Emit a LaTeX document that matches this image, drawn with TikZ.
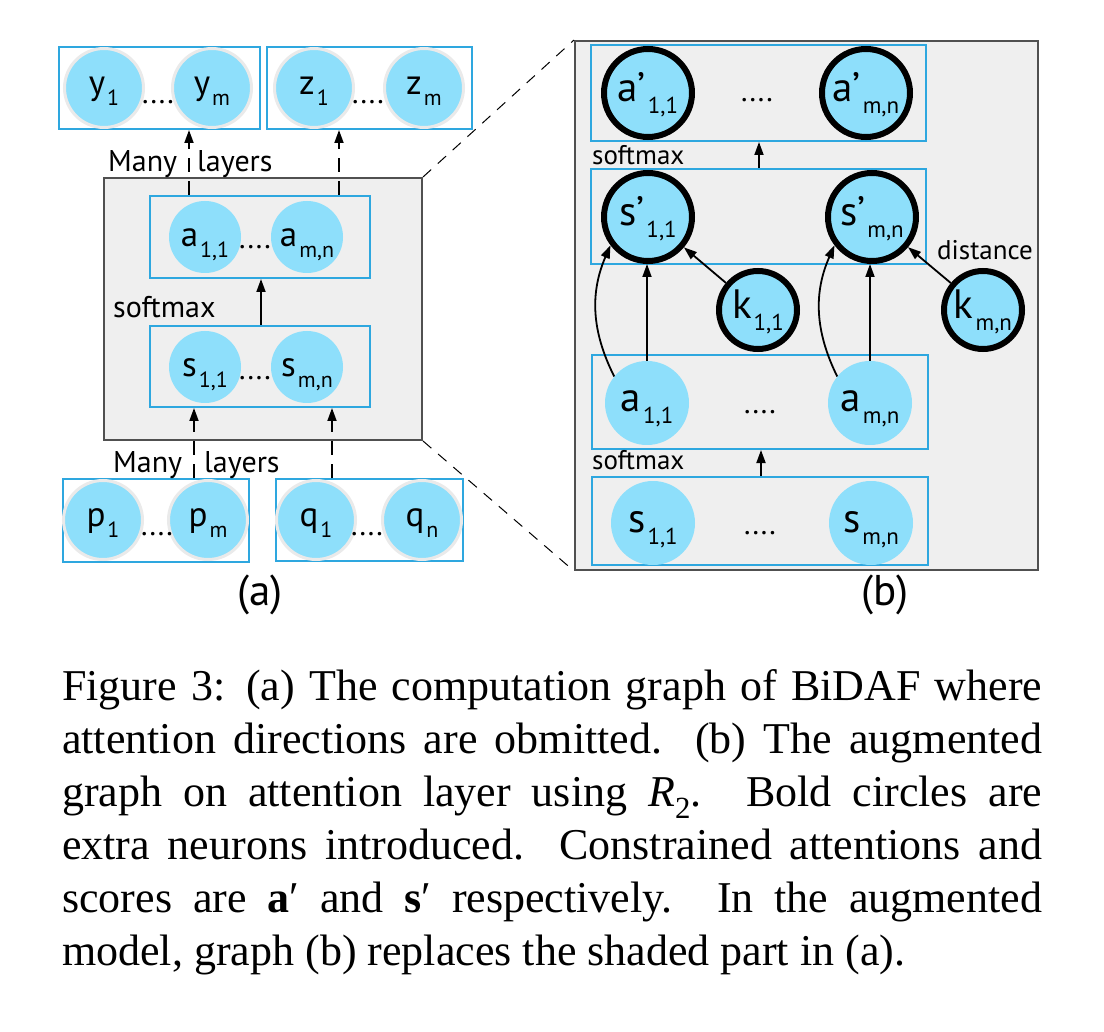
\documentclass[tikz,border=0pt]{standalone}
\usepackage{fontspec}
\setmainfont{Liberation Serif}
\newfontfamily\dfont{PT Sans}
\usetikzlibrary{arrows.meta}
\definecolor{nblue}{HTML}{8EDFFB}
\definecolor{bblue}{HTML}{2EA7DF}
\definecolor{shade}{HTML}{EFEFEF}
\definecolor{sborder}{HTML}{505050}
\definecolor{ringgray}{HTML}{EAEAEA}
\newcommand{\labA}[2]{{\fontsize{35}{35}\selectfont #1}\kern2pt\raisebox{-11pt}{\fontsize{22}{22}\selectfont #2}}
\newcommand{\labB}[2]{{\fontsize{41}{41}\selectfont #1}\kern2pt\raisebox{-12pt}{\fontsize{23}{23}\selectfont #2}}
\begin{document}
\begin{tikzpicture}[x=1pt,y=-1pt,
  layerbox/.style={draw=bblue, line width=2pt, rectangle, inner sep=0pt},
  shadebox/.style={draw=sborder, fill=shade, line width=2pt, rectangle, inner sep=0pt},
  neuronA/.style={circle, fill=nblue, draw=ringgray, line width=3pt, minimum size=79pt, inner sep=0pt, text height=20pt, text depth=7pt, font=\dfont},
  neuronAi/.style={circle, fill=nblue, minimum size=72pt, inner sep=0pt, text height=24pt, text depth=5pt, font=\dfont},
  neuronB/.style={circle, fill=nblue, minimum size=84pt, inner sep=0pt, text height=24pt, text depth=6pt, font=\dfont},
  boldB/.style={circle, fill=nblue, draw=black, line width=6pt, minimum size=88pt, inner sep=0pt, text height=24pt, text depth=6pt, font=\dfont},
  boldK/.style={boldB, minimum size=78pt},
  dotsty/.style={anchor=base, inner sep=0pt, font=\dfont\fontsize{30}{30}\selectfont},
  lblA/.style={anchor=base west, inner sep=0pt, font=\dfont\fontsize{30}{30}\selectfont},
  lblB/.style={anchor=base west, inner sep=0pt, font=\dfont\fontsize{27}{27}\selectfont},
  panel/.style={inner sep=0pt, font=\dfont\fontsize{43}{43}\selectfont},
  arr/.style={-{Triangle[length=13pt,width=9pt]}, line width=1.8pt},
  darr/.style={arr, dash pattern=on 14pt off 9pt},
  zoomline/.style={line width=1pt, dash pattern=on 11pt off 9pt},
]
\useasboundingbox (0,0) rectangle (1104,1032);
\fill[white] (0,0) rectangle (1104,1032);

% ---------------- panel (a) ----------------
\node[shadebox, minimum width=318pt, minimum height=262pt] (shA) at (263,309) {};

\node[layerbox, minimum width=201pt, minimum height=82pt] (ybox) at (159.5,88) {};
\node[neuronA] (y1) at (104,88) {\labA{y}{1}};
\node[neuronA] (ym) at (212,88) {\labA{y}{m}};
\node[dotsty] (ydots) at (158,104) {....};

\node[layerbox, minimum width=205pt, minimum height=82pt] (zbox) at (369.5,88) {};
\node[neuronA] (z1) at (314,88) {\labA{z}{1}};
\node[neuronA] (zm) at (424,88) {\labA{z}{m}};
\node[dotsty] (zdots) at (368,104) {....};

\node[layerbox, minimum width=220pt, minimum height=82pt] (abox) at (260,237) {};
\node[neuronAi] (a11) at (205,237) {\labA{a}{1,1}};
\node[neuronAi] (amn) at (307,237) {\labA{a}{m,n}};
\node[dotsty] (adots) at (255,249) {....};

\node[layerbox, minimum width=220pt, minimum height=81pt] (sbox) at (260,366.5) {};
\node[neuronAi] (s11) at (205,367) {\labA{s}{1,1}};
\node[neuronAi] (smn) at (307,367) {\labA{s}{m,n}};
\node[dotsty] (sdots) at (255,380) {....};

\node[layerbox, minimum width=186pt, minimum height=83pt] (pbox) at (156,520.5) {};
\node[neuronA] (p1) at (103,520) {\labA{p}{1}};
\node[neuronA] (pm) at (208,520) {\labA{p}{m}};
\node[dotsty] (pdots) at (157,535) {....};

\node[layerbox, minimum width=187pt, minimum height=82pt] (qbox) at (369.5,520) {};
\node[neuronA] (q1) at (316,520) {\labA{q}{1}};
\node[neuronA] (qn) at (422,520) {\labA{q}{n}};
\node[dotsty] (qdots) at (367,535) {....};

\node[lblA] (softA) at (113,318) {softmax};
\node[lblA] (manyT) at (108,172) {Many\hspace{20pt}layers};
\node[lblA] (manyB) at (113,472) {Many\hspace{22pt}layers};

\coordinate (xya) at (189,0);
\coordinate (xza) at (339,0);
\coordinate (xas) at (261,0);
\coordinate (xps) at (194,0);
\coordinate (xqs) at (332,0);
\draw[darr] (abox.north -| xya) -- (ybox.south -| xya);
\draw[darr] (abox.north -| xza) -- (zbox.south -| xza);
\draw[arr] (sbox.north -| xas) -- (abox.south -| xas);
\draw[darr] (pbox.north -| xps) -- (sbox.south -| xps);
\draw[darr] (qbox.north -| xqs) -- (sbox.south -| xqs);

\node[panel] (labelA) at (260,595) {(a)};

% ---------------- panel (b) ----------------
\node[shadebox, minimum width=463pt, minimum height=529pt] (shB) at (806.5,305.5) {};

\draw[zoomline] (shA.north east) -- (shB.north west);
\draw[zoomline] (shA.south east) -- (shB.south west);

\node[layerbox, minimum width=335pt, minimum height=96pt] (apbox) at (758.5,93) {};
\node[boldB] (ap11) at (648,93) {\labB{a’}{1,1}};
\node[boldB] (apmn) at (866,93) {\labB{a’}{m,n}};
\node[dotsty] (apdots) at (757,102) {....};

\node[layerbox, minimum width=335pt, minimum height=95pt] (spbox) at (758.5,216.5) {};
\node[boldB] (sp11) at (648,217) {\labB{s’}{1,1}};
\node[boldB] (spmn) at (872,217) {\labB{s’}{m,n}};

\node[boldK] (k11) at (758,310) {\labB{k}{1,1}};
\node[boldK] (kmn) at (983,310) {\labB{k}{m,n}};

\node[layerbox, minimum width=336pt, minimum height=94pt] (babox) at (760,402) {};
\node[neuronB] (ba11) at (647,403) {\labB{a}{1,1}};
\node[neuronB] (bamn) at (870,403) {\labB{a}{m,n}};
\node[dotsty] (badots) at (760,414) {....};

\node[layerbox, minimum width=336pt, minimum height=88pt] (bsbox) at (760,521) {};
\node[neuronB] (bs11) at (653,523) {\labB{s}{1,1}};
\node[neuronB] (bsmn) at (871,523) {\labB{s}{m,n}};
\node[dotsty] (bsdots) at (760,534) {....};

\node[lblB] (softB1) at (592,165) {softmax};
\node[lblB] (softB2) at (592,470) {softmax};
\node[lblB] (dist) at (937,260) {distance};

\coordinate (xsa) at (761,0);
\coordinate (xsp) at (759,0);
\draw[arr] (bsbox.north -| xsa) -- (babox.south -| xsa);
\draw[arr] (spbox.north -| xsp) -- (apbox.south -| xsp);
\draw[arr] (ba11.north) -- (ba11.north |- sp11.south);
\draw[arr] (bamn.north) -- (bamn.north |- spmn.south);
\draw[arr] (ba11.141) to[bend left=25] (sp11.217);
\draw[arr] (bamn.141) to[bend left=25] (spmn.217);
\draw[arr] (k11) -- (sp11);
\draw[arr] (kmn) -- (spmn);

\node[panel] (labelB) at (885,595) {(b)};

% ---------------- caption ----------------
\node[anchor=north west, text width=980pt, align=justify, inner sep=0pt,
      font=\fontsize{44}{53}\selectfont] (cap) at (62,669) {%
\tolerance=10000\relax\hbadness=10000\relax
Figure 3: (a) The computation graph of BiDAF where\linebreak
attention directions are obmitted.  (b) The augmented\linebreak
graph on attention layer using {\itshape R}\textsubscript{2}.  Bold circles are\linebreak
extra neurons introduced.  Constrained attentions and\linebreak
scores are \textbf{a}′ and \textbf{s}′ respectively.  In the augmented\linebreak
model, graph (b) replaces the shaded part in (a).};
\end{tikzpicture}
\end{document}
